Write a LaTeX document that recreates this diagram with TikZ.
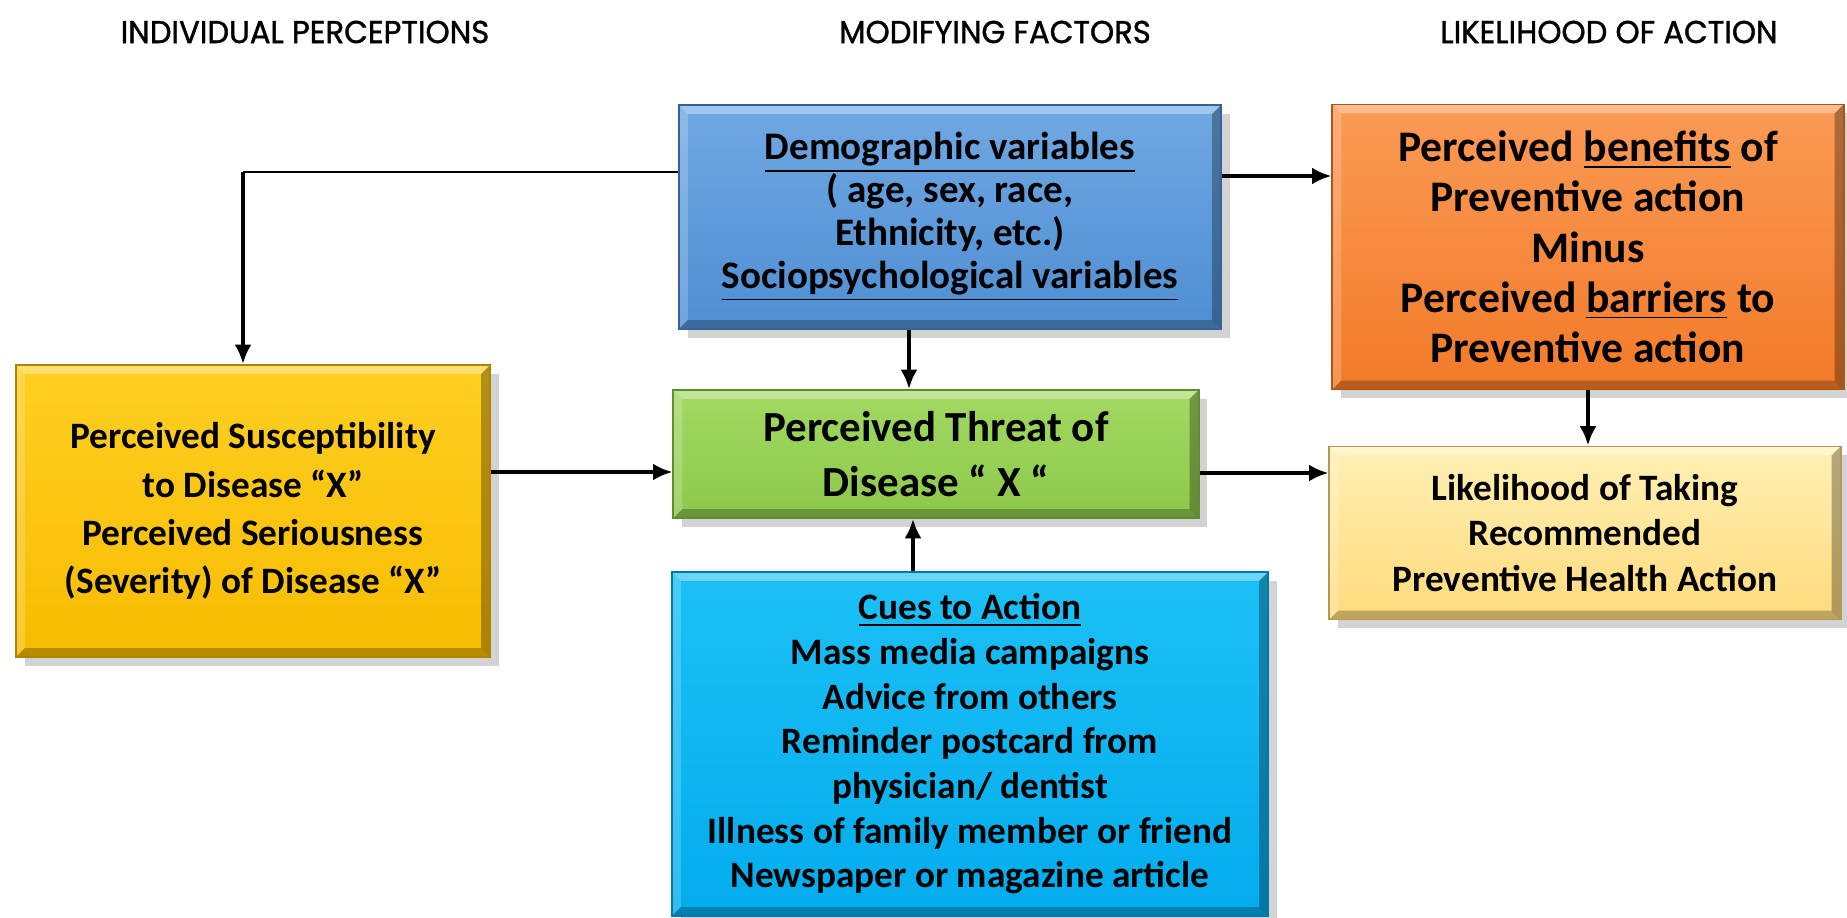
\documentclass[tikz,border=0pt]{standalone}
\usepackage{fontspec}
\setmainfont{Carlito}
\newfontfamily\headfont[FakeStretch=0.97,FakeBold=1.2]{Poppins}
\usetikzlibrary{shadows,arrows.meta}
\newcommand{\bev}{0.09cm}
\tikzset{
  bevelbox/.style n args={3}{rectangle, inner sep=0pt, align=center,
    top color=#1, bottom color=#2, draw=#3, line width=0.5pt,
    drop shadow={shadow xshift=2.5pt, shadow yshift=-2.5pt, opacity=.35},
    path picture={
      \fill[white,opacity=.35] (path picture bounding box.north west) -- (path picture bounding box.north east)
        -- ([shift={(-\bev,-\bev)}]path picture bounding box.north east) -- ([shift={(\bev,-\bev)}]path picture bounding box.north west) -- cycle;
      \fill[white,opacity=.2] (path picture bounding box.north west) -- (path picture bounding box.south west)
        -- ([shift={(\bev,\bev)}]path picture bounding box.south west) -- ([shift={(\bev,-\bev)}]path picture bounding box.north west) -- cycle;
      \fill[black,opacity=.25] (path picture bounding box.south west) -- (path picture bounding box.south east)
        -- ([shift={(-\bev,\bev)}]path picture bounding box.south east) -- ([shift={(\bev,\bev)}]path picture bounding box.south west) -- cycle;
      \fill[black,opacity=.3] (path picture bounding box.north east) -- (path picture bounding box.south east)
        -- ([shift={(-\bev,\bev)}]path picture bounding box.south east) -- ([shift={(-\bev,-\bev)}]path picture bounding box.north east) -- cycle;
    }},
  heading/.style={font=\headfont\fontsize{9}{11}\selectfont},
  arrow/.style={line width=1.05pt, -{Latex[length=5.5pt,width=4.8pt]}},
  thinline/.style={line width=0.5pt}
}
\definecolor{demotop}{HTML}{70A8E2}
\definecolor{demobot}{HTML}{4E8ED3}
\definecolor{benetop}{HTML}{FB9A55}
\definecolor{benebot}{HTML}{F27A28}
\definecolor{sustop}{HTML}{FFCF22}
\definecolor{susbot}{HTML}{F7BC00}
\definecolor{threattop}{HTML}{A2D962}
\definecolor{threatbot}{HTML}{8CC84A}
\definecolor{liketop}{HTML}{FFF0B4}
\definecolor{likebot}{HTML}{FFDA7C}
\definecolor{cuestop}{HTML}{1CC0F6}
\definecolor{cuesbot}{HTML}{02ACEC}

\begin{document}
\begin{tikzpicture}[x=0.01cm, y=-0.01cm]
\useasboundingbox (0,0) rectangle (1847,918);

\node[heading] (hind) at (305,32) {INDIVIDUAL PERCEPTIONS};
\node[heading] (hmod) at (995,32) {MODIFYING FACTORS};
\node[heading] (hlike) at (1609,32) {LIKELIHOOD OF ACTION};

\node[bevelbox={demotop}{demobot}{demobot!70!black}, minimum width=5.42cm, minimum height=2.24cm,
  font=\fontsize{11.1}{12.2}\selectfont\bfseries] (demo) at (950,217)
  {\underline{Demographic variables}\\( age, sex, race,\\Ethnicity, etc.)\\\underline{Sociopsychological variables}};
\node[bevelbox={benetop}{benebot}{benebot!70!black}, minimum width=5.11cm, minimum height=2.85cm,
  font=\fontsize{12.4}{14.3}\selectfont\bfseries] (benefit) at (1588,247)
  {Perceived \underline{benefits} of\\Preventive action\\Minus\\Perceived \underline{barriers} to\\Preventive action};
\node[bevelbox={sustop}{susbot}{susbot!70!black}, minimum width=4.74cm, minimum height=2.92cm,
  font=\fontsize{10.6}{13.7}\selectfont\bfseries] (sus) at (253,511)
  {Perceived Susceptibility\\to Disease “X”\\Perceived Seriousness\\(Severity) of Disease “X”};
\node[bevelbox={threattop}{threatbot}{threatbot!70!black}, minimum width=5.25cm, minimum height=1.28cm,
  font=\fontsize{12.2}{15.6}\selectfont\bfseries] (threat) at (936,454)
  {Perceived Threat of\\Disease “ X “};
\node[bevelbox={liketop}{likebot}{likebot!70!black}, minimum width=5.11cm, minimum height=1.73cm,
  font=\fontsize{10.6}{13}\selectfont\bfseries] (likely) at (1585,533)
  {Likelihood of Taking\\Recommended\\Preventive Health Action};
\node[bevelbox={cuestop}{cuesbot}{cuesbot!70!black}, minimum width=5.96cm, minimum height=3.44cm,
  font=\fontsize{10.6}{12.7}\selectfont\bfseries] (cues) at (970,744)
  {\underline{Cues to Action}\\Mass media campaigns\\Advice from others\\Reminder postcard from\\physician/ dentist\\Illness of family member or friend\\Newspaper or magazine article};

\coordinate (elbow) at (243,172);
\coordinate (db) at (0,176);
\coordinate (dt) at (909,0);
\coordinate (ct) at (913,0);
\coordinate (st) at (0,472);
\coordinate (tl) at (0,473);

\draw[thinline] (elbow -| demo.west) -- (elbow);
\draw[arrow] (elbow) -- (elbow |- sus.north);
\draw[arrow] (demo.east |- db) -- (benefit.west |- db);
\draw[arrow] (demo.south -| dt) -- (threat.north -| dt);
\draw[arrow] (cues.north -| ct) -- (threat.south -| ct);
\draw[arrow] (sus.east |- st) -- (threat.west |- st);
\draw[arrow] (threat.east |- tl) -- (likely.west |- tl);
\draw[arrow] (benefit.south) -- (benefit.south |- likely.north);
\end{tikzpicture}
\end{document}
